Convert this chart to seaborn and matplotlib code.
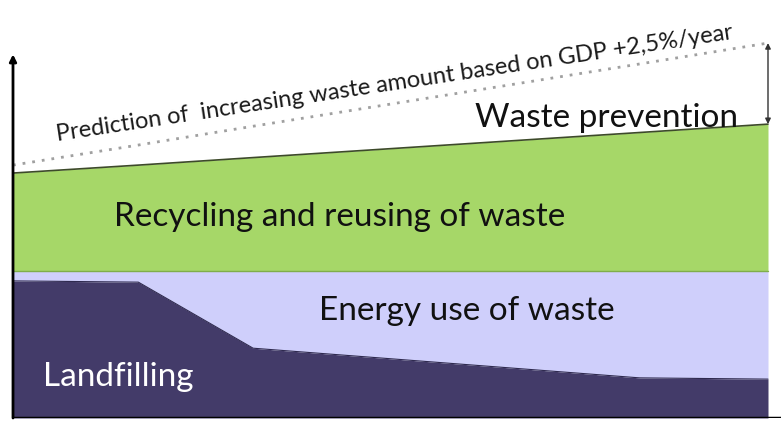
import pandas as pd
import matplotlib.pyplot as plt
import seaborn as sns

# Years on the horizontal axis, waste amounts in arbitrary units
years = [0.0, 1.66, 3.18, 8.30, 10.0]
landfill = [32.8, 32.5, 16.7, 9.6, 9.3]
energy_top = [35.2, 35.2, 35.2, 35.2, 35.2]
recycling_top = [58.6, 60.5, 62.3, 68.3, 70.3]
prediction = [60.5, 65.3, 69.8, 84.7, 89.7]

labels = {
    "prediction": "Prediction of  increasing waste amount based on GDP +2,5%/year",
    "prevention": "Waste prevention",
    "recycling": "Recycling and reusing of waste",
    "energy": "Energy use of waste",
    "landfill": "Landfilling",
}

sns.set_style("white")
plt.rcParams['font.family'] = ['Lato', 'DejaVu Sans']

df = pd.DataFrame({"year": years, "landfill": landfill, "energy": energy_top,
                   "recycling": recycling_top, "prediction": prediction})

fig = plt.figure(figsize=(7.81, 4.23), dpi=100)
ax = fig.add_axes([13 / 781, 5 / 423, 768 / 781, 418 / 423])
ax.set_xlim(0, 768 / 755 * 10)
ax.set_ylim(0, 100)

c_land = "#433b69"
c_energy = "#cfcffb"
c_green = "#a6d768"

ax.fill_between(df["year"], 0, df["landfill"], color=c_land, lw=0, zorder=1)
ax.fill_between(df["year"], df["landfill"], df["energy"], color=c_energy, lw=0, zorder=1)
ax.fill_between(df["year"], df["energy"], df["recycling"], color=c_green, lw=0, zorder=1)

sns.lineplot(data=df, x="year", y="recycling", color="#3d4a2a", lw=1.2, ax=ax, zorder=2)
sns.lineplot(data=df, x="year", y="energy", color="#7fae4a", lw=1.0, ax=ax, zorder=2)
sns.lineplot(data=df, x="year", y="landfill", color="#2f2a4f", lw=0.8, ax=ax, zorder=2)
sns.lineplot(data=df, x="year", y="prediction", color="#a0a0a0", lw=2.0,
             linestyle=(0, (1, 2.5)), ax=ax, zorder=2)

# double arrow showing the prevented amount
ax.annotate("", xy=(10, prediction[-1]), xytext=(10, recycling_top[-1]),
            arrowprops=dict(arrowstyle="<|-|>", color="#333333", lw=1.0,
                            mutation_scale=8, shrinkA=0, shrinkB=0), zorder=3)

# axes: y with arrow head, plain baseline
for s in ["top", "right", "left", "bottom"]:
    ax.spines[s].set_visible(False)
ax.annotate("", xy=(0, 87), xytext=(0, 0),
            arrowprops=dict(arrowstyle="-|>", color="black", lw=2.0,
                            mutation_scale=10, shrinkA=0, shrinkB=0), zorder=4)
ax.axhline(0, color="black", lw=2.5, zorder=4)
ax.set_xticks([])
ax.set_yticks([])
ax.set_xlabel("")
ax.set_ylabel("")

ax.text(5.05, 80.0, labels["prediction"], rotation=8.6, fontsize=17,
        ha="center", va="center", color="#1a1a1a", zorder=5)
ax.text(7.86, 71.8, labels["prevention"], fontsize=24,
        ha="center", va="center", color="#111111", zorder=5)
ax.text(4.33, 48.2, labels["recycling"], fontsize=24,
        ha="center", va="center", color="#111111", zorder=5)
ax.text(6.01, 25.6, labels["energy"], fontsize=24,
        ha="center", va="center", color="#111111", zorder=5)
ax.text(1.39, 9.9, labels["landfill"], fontsize=24,
        ha="center", va="center", color="white", zorder=5)

fig.savefig("out.png", dpi=100)
